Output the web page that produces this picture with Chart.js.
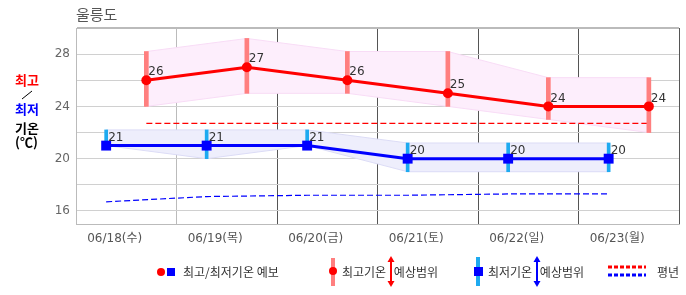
<!DOCTYPE html>
<html>
<head>
<meta charset="utf-8">
<script src="https://cdn.jsdelivr.net/npm/chart.js@4"></script>
<style>
  body { margin: 0; background: #fff; }
  #wrap { position: relative; width: 686px; height: 295px; font-family: "Noto Sans CJK KR", "DejaVu Sans", sans-serif; }
  #wrap canvas { position: absolute; left: 0; top: 0; }
  .txt { position: absolute; white-space: nowrap; line-height: 16px; }
  .lg { font-size: 12px; color: #333; top: 264px; }
  .side { font-size: 13px; font-weight: bold; left: 15px; }
  svg { position: absolute; left: 0; top: 0; pointer-events: none; }
</style>
</head>
<body>
<div id="wrap">
  <canvas id="temp-chart" width="686" height="295"></canvas>
  <div class="txt" style="left:76px;top:6px;font-size:15px;color:#555;">울릉도</div>
  <div class="txt side" style="top:72px;color:#f00;">최고</div>
  <div class="txt side" style="top:101px;color:#00f;">최저</div>
  <div class="txt side" style="top:120px;color:#000;">기온</div>
  <div class="txt side" style="top:134px;color:#000;">(℃)</div>
  <div class="txt lg" style="left:183px;">최고/최저기온 예보</div>
  <div class="txt lg" style="left:342px;word-spacing:5px;">최고기온 예상범위</div>
  <div class="txt lg" style="left:488px;word-spacing:5px;">최저기온 예상범위</div>
  <div class="txt lg" style="left:657px;">평년</div>
  <svg width="686" height="295">
    <line x1="22" y1="99" x2="32" y2="91" stroke="#000" stroke-width="1"/>
    <circle cx="161" cy="272" r="4" fill="#f00"/>
    <rect x="167" y="268" width="8" height="8" fill="#00f"/>
    <rect x="331" y="258" width="4" height="28" fill="#ff7f7f"/>
    <circle cx="333" cy="271" r="4" fill="#f00"/>
    <line x1="391" y1="260" x2="391" y2="283" stroke="#f00" stroke-width="2"/>
    <polygon points="391,256 387.5,262 394.5,262" fill="#f00"/>
    <polygon points="391,287 387.5,281 394.5,281" fill="#f00"/>
    <rect x="476" y="257" width="4" height="29" fill="#1eaaf0"/>
    <rect x="474" y="267" width="9" height="9" fill="#00f"/>
    <line x1="537" y1="260" x2="537" y2="283" stroke="#00f" stroke-width="2"/>
    <polygon points="537,256 533.5,262 540.5,262" fill="#00f"/>
    <polygon points="537,287 533.5,281 540.5,281" fill="#00f"/>
    <line x1="608" y1="267" x2="646" y2="267" stroke="#f00" stroke-width="3" stroke-dasharray="4 2"/>
    <line x1="608" y1="275" x2="646" y2="275" stroke="#00f" stroke-width="3" stroke-dasharray="4 2"/>
  </svg>
</div>
<script>
// forecast days
const dates = ['06/18(수)', '06/19(목)', '06/20(금)', '06/21(토)', '06/22(일)', '06/23(월)'];

// daily max temperature, its expected range, and the normal
const highTemp = [26, 27, 26, 25, 24, 24];
const highRangeTop = [28.2, 29.2, 28.2, 28.2, 26.2, 26.2];
const highRangeBottom = [24, 25, 25, 24, 23, 22];
const highNormal = [22.7, 22.7, 22.7, 22.7, 22.7, 22.7];

// daily min temperature, its expected range, and the normal
const lowTemp = [21, 21, 21, 20, 20, 20];
const lowRangeTop = [22.2, 22.2, 22.2, 21.2, 21.2, 21.2];
const lowRangeBottom = [21, 20, 21, 19, 19, 19];
const lowNormal = [16.7, 17.1, 17.2, 17.2, 17.3, 17.3];

const yTicks = [16, 18, 20, 22, 24, 26, 28, 30];
const yLabels = [16, 20, 24, 28];

// where in the day the min / max / date label sit (fraction of a day)
const lowAt = 0.3;
const highAt = 0.7;
const labelAt = 0.385;

const lowX = dates.map((d, i) => i + lowAt);
const highX = dates.map((d, i) => i + highAt);
const labelX = dates.map((d, i) => i + labelAt);
const pts = (xs, ys) => xs.map((x, i) => ({x: x, y: ys[i]}));
const bars = (xs, lo, hi) => xs.map((x, i) => ({x: x, y: [lo[i], hi[i]]}));

Chart.defaults.font.family = '"DejaVu Sans", "Noto Sans CJK KR", sans-serif';
Chart.defaults.font.size = 12;

// draws the value next to every marker
const valueLabels = {
    id: 'valueLabels',
    afterDatasetsDraw(chart) {
        const ctx = chart.ctx;
        chart.data.datasets.forEach((ds, i) => {
            if (!ds.showValues) return;
            const meta = chart.getDatasetMeta(i);
            ctx.save();
            ctx.font = '12px "DejaVu Sans"';
            ctx.fillStyle = '#333';
            ctx.textAlign = 'left';
            ctx.textBaseline = 'middle';
            meta.data.forEach((p, j) => ctx.fillText(ds.data[j].y, p.x + 2, p.y - 8));
            ctx.restore();
        });
    }
};

const line = (data, extra) => Object.assign({
    type: 'line', data: data, tension: 0, pointRadius: 0, fill: false, borderWidth: 0
}, extra);

let tempChart = new Chart('temp-chart', {
    type: 'line',
    data: {
        datasets: [
            line(pts(highX, highTemp), {borderColor: '#f00', borderWidth: 3, pointRadius: 5,
                pointBackgroundColor: '#f00', pointBorderWidth: 0, showValues: true, order: 0}),
            line(pts(lowX, lowTemp), {borderColor: '#00f', borderWidth: 3, pointRadius: 7, pointStyle: 'rect',
                pointBackgroundColor: '#00f', pointBorderWidth: 0, showValues: true, order: 0}),
            {type: 'bar', data: bars(highX, highRangeBottom, highRangeTop), backgroundColor: '#ff7f7f',
                barThickness: 4, grouped: false, order: 1},
            {type: 'bar', data: bars(lowX, lowRangeBottom, lowRangeTop), backgroundColor: '#1eaaf0',
                barThickness: 3, grouped: false, order: 1},
            line(pts(highX, highNormal), {borderColor: '#f00', borderWidth: 1.2, borderDash: [6, 3], order: 2}),
            line(pts(lowX, lowNormal), {borderColor: '#00f', borderWidth: 1.2, borderDash: [6, 3], order: 2}),
            line(pts(highX, highRangeTop), {borderColor: '#f8dcf6', borderWidth: 1, order: 3}),
            line(pts(highX, highRangeBottom), {borderColor: '#f8dcf6', borderWidth: 1, fill: '-1',
                backgroundColor: '#fdeefc', order: 3}),
            line(pts(lowX, lowRangeTop), {borderColor: '#dcdcf6', borderWidth: 1, order: 3}),
            line(pts(lowX, lowRangeBottom), {borderColor: '#dcdcf6', borderWidth: 1, fill: '-1',
                backgroundColor: '#eeeefc', order: 3})
        ]
    },
    options: {
        responsive: false,
        animation: false,
        layout: {padding: {top: 28, right: 4, left: 0, bottom: 0}},
        plugins: {legend: false, tooltip: false, title: false},
        scales: {
            x: {
                type: 'linear', min: 0, max: dates.length, offset: false,
                afterBuildTicks: s => { s.ticks = labelX.map(v => ({value: v})); },
                afterFit: s => { s.height = 71; },
                ticks: {color: '#555', padding: 0, maxRotation: 0, autoSkip: false,
                    callback: (v, i) => dates[i]},
                grid: {display: false, offset: false},
                border: {color: '#bbb'}
            },
            days: {
                type: 'linear', position: 'top', min: 0, max: dates.length, offset: false,
                afterBuildTicks: s => { s.ticks = [0, 1, 2, 3, 4, 5, 6].map(v => ({value: v})); },
                afterFit: s => { s.height = 0; },
                ticks: {display: false},
                grid: {drawTicks: false, offset: false, color: c => (c.index < 2 ? '#bbb' : '#555')},
                border: {display: false}
            },
            y: {
                min: 15, max: 30,
                afterBuildTicks: s => { s.ticks = yTicks.map(v => ({value: v})); },
                afterFit: s => { s.width = 76; },
                ticks: {color: '#666', padding: 6, callback: v => (yLabels.includes(v) ? v : '')},
                grid: {drawTicks: false, color: c => (c.tick && c.tick.value === 30 ? '#bbb' : '#d0d0d0'),
                    lineWidth: c => (c.tick && c.tick.value === 30 ? 2 : 1)},
                border: {color: '#bbb'}
            }
        }
    },
    plugins: [valueLabels]
});
</script>
</body>
</html>
